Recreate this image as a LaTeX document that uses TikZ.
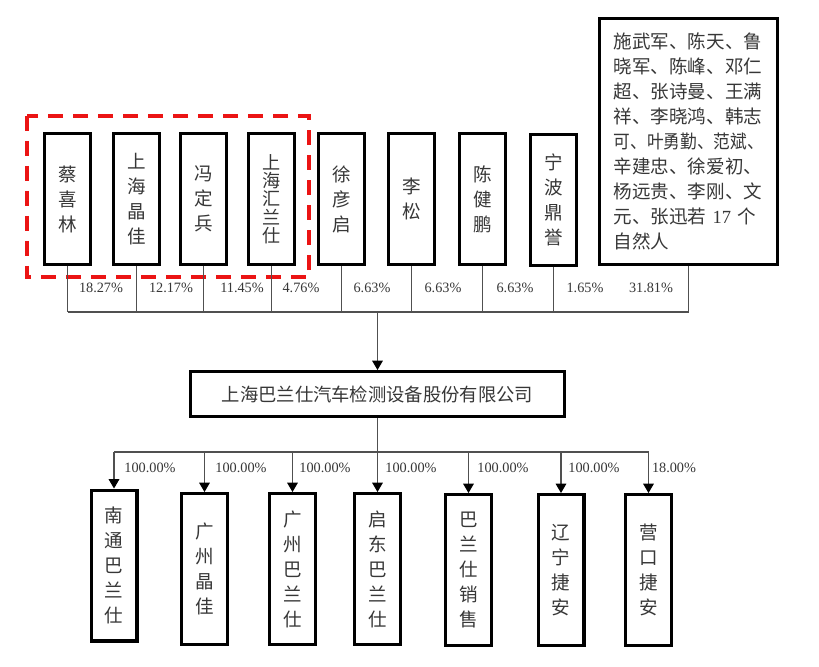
\documentclass[tikz,border=0pt]{standalone}
\usepackage{fontspec}
\usepackage{graphicx}
\setmainfont{Liberation Serif}
\newfontfamily\cjk{Noto Sans CJK SC}
\usetikzlibrary{arrows.meta}
\definecolor{txt}{RGB}{55,55,55}
\definecolor{ln}{RGB}{80,80,80}
\definecolor{dashred}{RGB}{235,20,20}
\begin{document}
\begin{tikzpicture}[x=0.75pt,y=-0.75pt,
  cjkfont/.style={font=\cjk\fontsize{13.9pt}{18.75pt}\selectfont},
  thickbox/.style={draw=black, line width=2.5pt, inner sep=0pt, text=txt},
  vbox/.style={thickbox, cjkfont, minimum width=34.25pt, minimum height=98pt, align=center},
  lbox/.style={vbox, minimum height=113pt},
  pct/.style={text=txt, font=\fontsize{10.7pt}{12pt}\selectfont, inner sep=0pt},
  conn/.style={draw=ln, line width=0.8pt},
  arr/.style={conn, -{Triangle[width=8pt,length=7pt,color=black]}},
  reddash/.style={draw=dashred, line width=3pt, dash pattern=on 11.25pt off 7.5pt}
  ]
\fill[white] (0,0) rectangle (819,667);
\useasboundingbox (0,0) rectangle (819,667);

% shareholders
\node[vbox] (a1) at (67.5,199) {蔡\\喜\\林};
\node[vbox] (a2) at (136.5,199) {上\\海\\晶\\佳};
\node[vbox] (a3) at (203.5,199) {冯\\定\\兵};
\node[vbox, font=\cjk\fontsize{13.6pt}{13.75pt}\selectfont] (a4) at (271.5,199) {上\\海\\汇\\兰\\仕};
\node[vbox] (a5) at (341.5,199) {徐\\彦\\启};
\node[vbox] (a6) at (411.5,199) {李\\松};
\node[vbox] (a7) at (482.5,199) {陈\\健\\鹏};
\node[vbox] (a8) at (553.5,200) {宁\\波\\鼎\\誉};
\node[thickbox, cjkfont, minimum width=133.25pt, minimum height=184.25pt, text width=112pt, align=left] (a9) at (688.5,141.5)
 {施武军、陈天、鲁\\晓军、陈峰、邓仁\\超、张诗曼、王满\\祥、李晓鸿、韩志\\\scalebox{0.9}[1]{可、叶勇勤、范斌、}\\辛建忠、徐爱初、\\杨远贵、李刚、文\\元、张迅若 {\rmfamily 17} 个\\自然人};

% red dashed group
\draw[reddash] (27,116) rectangle (309,277);

% company
\node[thickbox, font=\cjk\fontsize{13.75pt}{16pt}\selectfont, minimum width=280.25pt, minimum height=33.5pt] (co) at (377.5,394) {上海巴兰仕汽车检测设备股份有限公司};

% subsidiaries
\node[lbox] (b1) at (114,565.5) {南\\通\\巴\\兰\\仕};
\node[lbox] (b2) at (204.5,569) {广\\州\\晶\\佳};
\node[lbox] (b3) at (292.5,569) {广\\州\\巴\\兰\\仕};
\node[lbox] (b4) at (377.5,569) {启\\东\\巴\\兰\\仕};
\node[lbox] (b5) at (468.5,570) {巴\\兰\\仕\\销\\售};
\node[lbox] (b6) at (561,570) {辽\\宁\\捷\\安};
\node[lbox] (b7) at (648.5,570) {营\\口\\捷\\安};

% upper connectors
\coordinate (tb) at (0,312);
\foreach \n in {a1,a2,a3,a4,a5,a6,a7,a8,a9}
  \draw[conn] (\n.south) -- (\n.south |- tb);
\draw[conn] (a1.south |- tb) -- (a9.south |- tb);
\draw[arr] (co.north |- tb) -- (co.north);

% lower connectors
\coordinate (bb) at (0,452);
\draw[conn] (co.south) -- (co.south |- bb);
\draw[conn] (b1.north |- bb) -- (b7.north |- bb);
\foreach \n in {b1,b2,b3,b4,b5,b6,b7}
  \draw[arr] (\n.north |- bb) -- (\n.north);

% percentages (upper)
\node[pct] (p1) at (101,288) {18.27\%};
\node[pct] (p2) at (171,288) {12.17\%};
\node[pct] (p3) at (242,288) {11.45\%};
\node[pct] (p4) at (301,288) {4.76\%};
\node[pct] (p5) at (372,288) {6.63\%};
\node[pct] (p6) at (443,288) {6.63\%};
\node[pct] (p7) at (515,288) {6.63\%};
\node[pct] (p8) at (585,288) {1.65\%};
\node[pct] (p9) at (651,288) {31.81\%};

% percentages (lower)
\node[pct] (q1) at (150,468) {100.00\%};
\node[pct] (q2) at (241,468) {100.00\%};
\node[pct] (q3) at (325,468) {100.00\%};
\node[pct] (q4) at (411,468) {100.00\%};
\node[pct] (q5) at (503,468) {100.00\%};
\node[pct] (q6) at (594,468) {100.00\%};
\node[pct] (q7) at (674,468) {18.00\%};
\end{tikzpicture}
\end{document}
